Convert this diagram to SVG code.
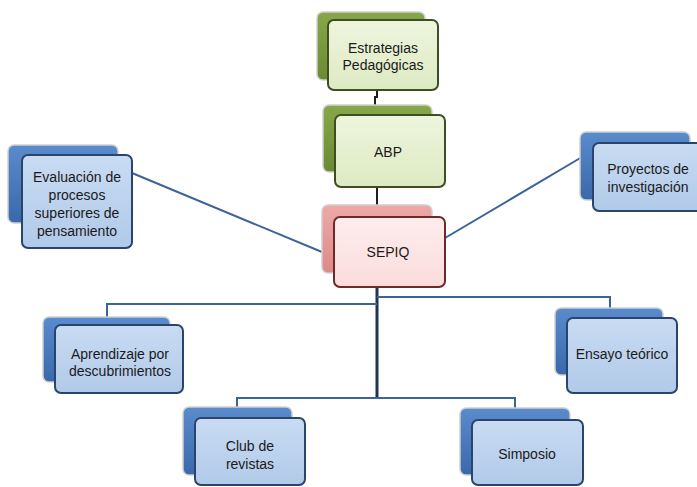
<svg xmlns="http://www.w3.org/2000/svg" width="697" height="487" viewBox="0 0 697 487">
<defs>
<linearGradient id="bBack" x1="0" y1="0" x2="0" y2="1"><stop offset="0" stop-color="#5A8BCC"/><stop offset="1" stop-color="#3A69AB"/></linearGradient>
<linearGradient id="bFront" x1="0" y1="0" x2="0" y2="1"><stop offset="0" stop-color="#C8DBF2"/><stop offset="1" stop-color="#B1CAE9"/></linearGradient>
<linearGradient id="gBack" x1="0" y1="0" x2="0" y2="1"><stop offset="0" stop-color="#86A84A"/><stop offset="1" stop-color="#6A8A32"/></linearGradient>
<linearGradient id="gFront" x1="0" y1="0" x2="0" y2="1"><stop offset="0" stop-color="#EEF5DE"/><stop offset="1" stop-color="#DDEAC2"/></linearGradient>
<linearGradient id="rBack" x1="0" y1="0" x2="0" y2="1"><stop offset="0" stop-color="#EDA9A7"/><stop offset="1" stop-color="#DC8A88"/></linearGradient>
<linearGradient id="rFront" x1="0" y1="0" x2="0" y2="1"><stop offset="0" stop-color="#FEEDED"/><stop offset="1" stop-color="#FBDCDC"/></linearGradient>
</defs>
<style>
.bb{fill:url(#bBack);stroke:#D0D0D0;stroke-width:1.5}
.bf{fill:url(#bFront);stroke:#2A456B;stroke-width:2}
.gb{fill:url(#gBack);stroke:#D0D0D0;stroke-width:1.5}
.gf{fill:url(#gFront);stroke:#3E4E22;stroke-width:2}
.rb{fill:url(#rBack);stroke:#D0D0D0;stroke-width:1.5}
.rf{fill:url(#rFront);stroke:#6E2A2A;stroke-width:2}
text{font-family:"Liberation Sans",Arial,sans-serif;font-size:14px;fill:#1A1A1A;text-anchor:middle}
.c1{fill:none;stroke:#1E1E1E;stroke-width:2}
.c2{fill:none;stroke:#3D6498;stroke-width:2}
.c3{fill:none;stroke:#1F3553;stroke-width:3}
</style>
<g id="connectors">
<path class="c1" d="M377 90 V97 H375 V105"/>
<path class="c1" d="M377 187 V206"/>
<path class="c2" d="M132 173 L322 252"/>
<path class="c2" d="M445 238 L582 157"/>
<path class="c3" d="M377 287 V398"/>
<path class="c2" d="M377 304 H107 V318"/>
<path class="c2" d="M377 297 H610 V308"/>
<path class="c2" d="M377 398 H237 V407"/>
<path class="c2" d="M377 398 H515 V408"/>
</g>
<g id="estrategias">
<rect class="gb" x="317" y="12" width="108" height="68" rx="6"/>
<rect class="gf" x="328" y="20" width="110" height="70" rx="6"/>
<text x="383" y="53">Estrategias</text>
<text x="383" y="70">Pedagógicas</text>
</g>
<g id="abp">
<rect class="gb" x="323" y="105" width="109" height="67" rx="6"/>
<rect class="gf" x="335" y="115" width="110" height="72" rx="6"/>
<text x="388" y="157">ABP</text>
</g>
<g id="sepiq">
<rect class="rb" x="322" y="205" width="110" height="68" rx="6"/>
<rect class="rf" x="334" y="217" width="111" height="70" rx="6"/>
<text x="388" y="257">SEPIQ</text>
</g>
<g id="evaluacion">
<rect class="bb" x="8" y="145" width="110" height="78" rx="6"/>
<rect class="bf" x="22" y="155" width="110" height="93" rx="6"/>
<text x="77" y="182">Evaluación de</text>
<text x="77" y="200">procesos</text>
<text x="77" y="218">superiores de</text>
<text x="77" y="236">pensamiento</text>
</g>
<g id="proyectos">
<rect class="bb" x="580" y="132" width="110" height="68" rx="6"/>
<rect class="bf" x="593" y="143" width="110" height="68" rx="6"/>
<text x="648" y="174">Proyectos de</text>
<text x="648" y="192">investigación</text>
</g>
<g id="aprendizaje">
<rect class="bb" x="43" y="317" width="127" height="65" rx="6"/>
<rect class="bf" x="55" y="325" width="128" height="68" rx="6"/>
<text x="120" y="359">Aprendizaje por</text>
<text x="120" y="376">descubrimientos</text>
</g>
<g id="ensayo">
<rect class="bb" x="555" y="308" width="108" height="67" rx="6"/>
<rect class="bf" x="567" y="318" width="110" height="75" rx="6"/>
<text x="622" y="359">Ensayo teórico</text>
</g>
<g id="club">
<rect class="bb" x="183" y="407" width="109" height="68" rx="6"/>
<rect class="bf" x="195" y="418" width="110" height="67" rx="6"/>
<text x="250" y="451">Club de</text>
<text x="250" y="469">revistas</text>
</g>
<g id="simposio">
<rect class="bb" x="460" y="408" width="110" height="67" rx="6"/>
<rect class="bf" x="472" y="420" width="111" height="65" rx="6"/>
<text x="527" y="459">Simposio</text>
</g>
</svg>
